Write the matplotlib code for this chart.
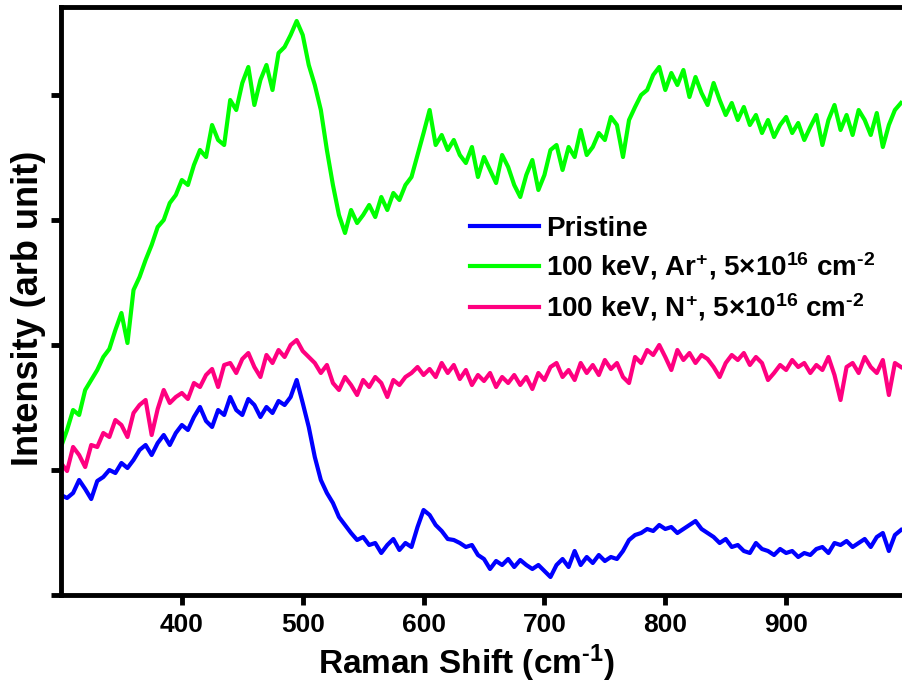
import numpy as np
import matplotlib
matplotlib.use('Agg')
import matplotlib.pyplot as plt

# Raman shift grid (cm-1), step 5
shift = list(range(300, 1000, 5))

# intensities (arbitrary units)
ar_ion = [148, 165, 185, 180, 205, 215, 225, 238, 246, 265, 282, 252, 305, 318, 335, 350, 368, 375, 392, 400,
          415, 410, 430, 445, 438, 470, 455, 450, 495, 485, 512, 528, 490, 515, 530, 505, 542, 548, 560, 574,
          560, 530, 510, 485, 445, 410, 380, 362, 385, 372, 380, 390, 378, 398, 385, 402, 395, 410, 418, 440,
          462, 485, 450, 460, 445, 455, 440, 432, 448, 418, 438, 425, 412, 440, 428, 410, 398, 420, 435, 405,
          420, 445, 450, 425, 448, 438, 465, 440, 448, 462, 455, 478, 470, 438, 475, 488, 500, 505, 520, 528,
          505, 522, 510, 525, 498, 518, 502, 490, 512, 495, 480, 492, 475, 488, 470, 480, 462, 475, 458, 470,
          478, 462, 472, 455, 468, 480, 450, 475, 490, 465, 480, 460, 485, 475, 460, 482, 448, 470, 485, 492]

n_ion = [132, 124, 148, 140, 128, 150, 148, 162, 158, 175, 170, 158, 182, 190, 195, 160, 186, 205, 192, 198,
         202, 196, 212, 208, 220, 226, 208, 230, 232, 222, 236, 242, 228, 218, 240, 232, 245, 238, 250, 255,
         244, 238, 232, 222, 230, 212, 205, 218, 210, 200, 215, 208, 218, 212, 198, 215, 210, 218, 222, 228,
         220, 226, 218, 232, 222, 230, 216, 225, 210, 220, 214, 222, 208, 218, 212, 220, 210, 218, 206, 222,
         215, 228, 232, 218, 225, 215, 232, 222, 230, 220, 235, 226, 232, 218, 212, 238, 232, 245, 240, 250,
         238, 225, 245, 235, 242, 232, 240, 236, 228, 218, 232, 240, 235, 242, 230, 238, 232, 215, 222, 230,
         225, 235, 228, 232, 222, 230, 225, 238, 220, 195, 228, 232, 222, 238, 228, 222, 235, 200, 232, 228]

pristine = [100, 97, 102, 115, 106, 96, 114, 118, 125, 122, 132, 127, 135, 145, 150, 140, 152, 160, 150, 162,
            170, 165, 178, 188, 174, 168, 185, 180, 198, 185, 180, 196, 190, 178, 188, 182, 194, 190, 198, 215,
            192, 168, 138, 115, 102, 92, 78, 70, 62, 55, 58, 50, 52, 42, 50, 56, 45, 52, 48, 68,
            85, 80, 70, 64, 56, 55, 52, 48, 50, 40, 36, 26, 34, 30, 36, 28, 35, 30, 26, 30,
            24, 18, 30, 36, 28, 44, 30, 38, 32, 40, 34, 38, 36, 44, 55, 60, 62, 66, 64, 70,
            66, 68, 62, 66, 70, 74, 66, 62, 58, 52, 56, 48, 50, 44, 42, 52, 46, 44, 40, 46,
            42, 44, 38, 42, 40, 46, 48, 42, 52, 50, 54, 48, 52, 56, 48, 58, 62, 44, 60, 65]

labels = ['Pristine',
          r'100 keV, Ar$^{+}$, 5$\times$10$^{16}$ cm$^{\text{-}2}$',
          r'100 keV, N$^{+}$, 5$\times$10$^{16}$ cm$^{\text{-}2}$']

plt.rcParams['font.family'] = ['Liberation Sans', 'DejaVu Sans']
plt.rcParams['font.weight'] = 'bold'
plt.rcParams['mathtext.fontset'] = 'custom'
plt.rcParams['mathtext.rm'] = 'Liberation Sans:bold'
plt.rcParams['mathtext.bf'] = 'Liberation Sans:bold'
plt.rcParams['mathtext.default'] = 'rm'

fig = plt.figure(figsize=(9.03, 6.82), dpi=100)
ax = fig.add_axes([61 / 903, 87 / 682, 846 / 903, 588 / 682])

ax.plot(shift, pristine, color='#0000ff', lw=3, label=labels[0])
ax.plot(shift, ar_ion, color='#00ff00', lw=3, label=labels[1])
ax.plot(shift, n_ion, color='#ff0080', lw=3, label=labels[2])

ax.set_xlim(300, 1000)
ax.set_ylim(0, 588)
ax.set_xticks([400, 500, 600, 700, 800, 900])
ax.set_yticks([0, 125, 250, 375, 500])
ax.set_yticklabels([])
ax.tick_params(direction='out', length=7, width=3.5, labelsize=19, pad=6)

for side in ['left', 'bottom', 'top']:
    ax.spines[side].set_linewidth(3.5)
ax.spines['right'].set_visible(False)

ax.set_xlabel(r'Raman Shift (cm$^{\text{-}1}$)', fontsize=24, fontweight='bold')
ax.xaxis.set_label_coords(0.479, -0.08)
ax.set_ylabel('Intensity (arb unit)', fontsize=26, fontweight='bold')
ax.yaxis.set_label_coords(-0.018, 0.488)

ax.legend(loc='upper left', bbox_to_anchor=(0.483, 0.645), frameon=False,
          fontsize=20, handlelength=2.5, handletextpad=0.25, labelspacing=0.32,
          borderaxespad=0, borderpad=0)

plt.savefig('out.png', dpi=100)
